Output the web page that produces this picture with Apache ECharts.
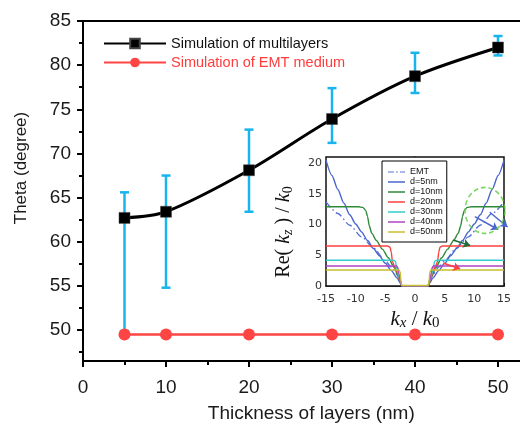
<!DOCTYPE html>
<html>
<head>
<meta charset="utf-8">
<script src="https://cdn.jsdelivr.net/npm/echarts@6/dist/echarts.min.js"></script>
<style>html,body{margin:0;padding:0;background:#fff}#c{width:520px;height:424px}</style>
</head>
<body>
<div id="c"></div>
<script>
// ---- main chart data ----
const thickness = [5, 10, 20, 30, 40, 50];
const thetaMultilayers = [62.7, 63.4, 68.1, 73.9, 78.75, 82.0];
const errLow = [49.9, 54.8, 63.4, 71.2, 76.85, 81.1];
const errHigh = [65.6, 67.5, 72.7, 77.4, 81.4, 83.3];
const thetaEMT = [49.5, 49.5, 49.5, 49.5, 49.5, 49.5];
const yMajorTicks = [50, 55, 60, 65, 70, 75, 80, 85];
const yMinorTicks = [47.5, 52.5, 57.5, 62.5, 67.5, 72.5, 77.5, 82.5];
const mainNames = ['Simulation of multilayers', 'Simulation of EMT medium'];

// ---- inset data: [kx/k0, Re(kz)/k0] ----
const insetNames = ['EMT', 'd=5nm', 'd=10nm', 'd=20nm', 'd=30nm', 'd=40nm', 'd=50nm'];
const curveEMT = [[-15,13.7],[-13,11.8],[-11,9.9],[-9,8.0],[-7,6.2],[-5,4.1],[-4,3.1],[-3,1.9],[-2.5,1.1],[-2.2,0.2],[-2.1,0.05],[0,0.05],[2.1,0.05],[2.2,0.2],[2.5,1.1],[3,1.9],[4,3.1],[5,4.1],[7,6.2],[9,8.0],[11,9.9],[13,11.8],[15,13.7]];
const curve5 = [[-15,20.5],[-14,18.0],[-13,15.7],[-12,13.5],[-11,11.6],[-10,10.1],[-9,8.8],[-8,7.4],[-7,6.1],[-6,4.9],[-5,3.7],[-4,2.5],[-3,1.3],[-2.5,0.5],[-2.2,0],[0,0],[2.2,0],[2.5,0.5],[3,1.3],[4,2.5],[5,3.7],[6,4.9],[7,6.1],[8,7.4],[9,8.8],[10,10.1],[11,11.6],[12,13.5],[13,15.7],[14,18.0],[15,20.5]];
const curve10 = [[-15,12.9],[-9.5,12.9],[-8.8,12.8],[-8.3,12.3],[-8.0,11.3],[-7.7,9.8],[-7.3,8.6],[-6.5,7.4],[-5.5,6.0],[-4.5,4.6],[-3.5,3.0],[-2.8,1.5],[-2.4,0.4],[-2.2,0],[2.2,0],[2.4,0.4],[2.8,1.5],[3.5,3.0],[4.5,4.6],[5.5,6.0],[6.5,7.4],[7.3,8.6],[7.7,9.8],[8.0,11.3],[8.3,12.3],[8.8,12.8],[9.5,12.9],[15,12.9]];
const curve20 = [[-15,6.5],[-4.6,6.5],[-4.2,6.3],[-4.0,5.5],[-3.8,4.0],[-3.5,3.3],[-3.0,2.2],[-2.6,1.0],[-2.3,0.2],[-2.2,0],[2.2,0],[2.3,0.2],[2.6,1.0],[3.0,2.2],[3.5,3.3],[3.8,4.0],[4.0,5.5],[4.2,6.3],[4.6,6.5],[15,6.5]];
const curve30 = [[-15,4.2],[-3.6,4.2],[-3.3,4.0],[-3.1,3.0],[-2.9,2.2],[-2.6,1.2],[-2.3,0.2],[-2.2,0],[2.2,0],[2.3,0.2],[2.6,1.2],[2.9,2.2],[3.1,3.0],[3.3,4.0],[3.6,4.2],[15,4.2]];
const curve40 = [[-15,3.25],[-3.1,3.25],[-2.9,3.0],[-2.7,2.0],[-2.5,1.0],[-2.3,0.2],[-2.2,0],[2.2,0],[2.3,0.2],[2.5,1.0],[2.7,2.0],[2.9,3.0],[3.1,3.25],[15,3.25]];
const curve50 = [[-15,2.6],[-2.7,2.6],[-2.5,2.3],[-2.4,1.2],[-2.3,0.3],[-2.2,0.08],[0,0.08],[2.2,0.08],[2.3,0.3],[2.4,1.2],[2.5,2.3],[2.7,2.6],[15,2.6]];
const arrowGreen = [[6.4,7.5],[9.3,6.6]];
const arrowRed = [[4.8,3.7],[7.6,2.8]];
const arrowBlue1 = [[10.1,11.3],[14.0,9.2]];
const arrowBlue2 = [[12.6,12.0],[15.6,9.6]];
const circleCenter = [[11.8,12.3]];
const insetTicks = [0, 5, 10, 15, 20];

const errColor = '#18b4ee';
const sans = 'Liberation Sans, Arial, sans-serif';
const serif = 'Liberation Serif, Times New Roman, serif';

const chart = echarts.init(document.getElementById('c'), null, {renderer: 'canvas'});

const insetColors = ['#5570d8', '#4a66cc', '#2e8a38', '#ff4040', '#33cccc', '#b044c4', '#c8c030'];
const insetData = [curveEMT, curve5, curve10, curve20, curve30, curve40, curve50];
const insetSeries = insetNames.map((n, i) => ({
  name: n, type: 'line', xAxisIndex: 1, yAxisIndex: 2, data: insetData[i],
  symbol: 'none', smooth: 0.25, smoothMonotone: 'x', z: 5,
  lineStyle: {color: insetColors[i], width: 1.4, type: i === 0 ? [7, 3, 1.5, 3] : 'solid'},
  itemStyle: {color: insetColors[i]}
}));
const dashDotIcon = 'path://M0,0h7v1h-7z M9.5,0h2v1h-2z M14,0h6v1h-6z';
const insetLegendData = insetNames.map((n, i) => ({name: n, icon: i === 0 ? dashDotIcon : 'rect'}));

function arrowSeries(coords, color) {
  return {
    type: 'lines', coordinateSystem: 'cartesian2d', xAxisIndex: 1, yAxisIndex: 2,
    symbol: ['none', 'arrow'], symbolSize: 7, clip: false, z: 6,
    lineStyle: {color: color, width: 1.5, opacity: 1},
    data: [{coords: coords}]
  };
}

const option = {
  backgroundColor: '#fff',
  animation: false,
  grid: [
    {left: 83, top: 21, width: 456.5, height: 340, show: true, borderColor: '#000', borderWidth: 2, backgroundColor: 'transparent', outerBoundsMode: 'none', containLabel: false},
    {left: 326, top: 157, width: 178, height: 129, show: true, borderColor: '#111', borderWidth: 1.5, backgroundColor: '#fff', z: 3, outerBoundsMode: 'none', containLabel: false}
  ],
  legend: [
    {
      data: [
        {name: mainNames[0], textStyle: {color: '#111'}},
        {name: mainNames[1], textStyle: {color: '#ff3b3b'}}
      ],
      orient: 'vertical', left: 98, top: 35, itemWidth: 62, itemHeight: 12, itemGap: 2,
      padding: [0, 5], textStyle: {fontFamily: sans, fontSize: 14.5, lineHeight: 17}
    },
    {
      data: insetLegendData, orient: 'vertical', left: 382, top: 161, itemWidth: 17, itemHeight: 1.5, itemGap: 0,
      padding: [6, 4, 5, 6], borderColor: '#000', borderWidth: 1, backgroundColor: '#fff', z: 8,
      textStyle: {fontFamily: sans, fontSize: 9, lineHeight: 10, color: '#111'}
    }
  ],
  xAxis: [
    {
      type: 'value', gridIndex: 0, min: 0, max: 55, interval: 10,
      axisLine: {lineStyle: {color: '#000', width: 2}},
      axisTick: {length: 6, lineStyle: {color: '#000', width: 2}},
      minorTick: {show: true, splitNumber: 2, length: 4, lineStyle: {color: '#000', width: 2}},
      splitLine: {show: false},
      axisLabel: {fontFamily: sans, fontSize: 19, color: '#1a1a1a', margin: 17},
      name: 'Thickness of layers (nm)', nameLocation: 'middle', nameGap: 43,
      nameTextStyle: {fontFamily: sans, fontSize: 19, color: '#1a1a1a'}
    },
    {
      type: 'value', gridIndex: 1, min: -15, max: 15, interval: 5,
      axisLine: {lineStyle: {color: '#111', width: 1.5}},
      axisTick: {inside: true, length: 3, lineStyle: {color: '#111'}},
      splitLine: {show: false},
      axisLabel: {fontFamily: 'DejaVu Sans', fontSize: 11, color: '#333', margin: 8}
    }
  ],
  yAxis: [
    {
      type: 'value', gridIndex: 0, min: 46.5, max: 85, position: 'left',
      axisLine: {lineStyle: {color: '#000', width: 2}},
      axisTick: {length: 6, customValues: yMajorTicks, lineStyle: {color: '#000', width: 2}},
      splitLine: {show: false},
      axisLabel: {customValues: yMajorTicks, fontFamily: sans, fontSize: 19, color: '#1a1a1a', margin: 12}
    },
    {
      type: 'value', gridIndex: 0, min: 46.5, max: 85, position: 'left', offset: 0,
      axisLine: {show: false},
      axisTick: {length: 4, customValues: yMinorTicks, lineStyle: {color: '#000', width: 2}},
      splitLine: {show: false},
      axisLabel: {show: false}
    },
    {
      type: 'value', gridIndex: 1, min: 0, max: 21,
      axisLine: {lineStyle: {color: '#111', width: 1.5}},
      axisTick: {inside: true, length: 3, customValues: insetTicks, lineStyle: {color: '#111'}},
      splitLine: {show: false},
      axisLabel: {customValues: insetTicks, fontFamily: 'DejaVu Sans', fontSize: 11, color: '#333', margin: 4}
    }
  ],
  graphic: [
    {
      type: 'text', x: 21, y: 168, rotation: Math.PI / 2, z: 10,
      style: {text: 'Theta (degree)', align: 'center', verticalAlign: 'middle', fontFamily: sans, fontSize: 17, fill: '#1a1a1a'}
    },
    {
      type: 'text', x: 284, y: 232, rotation: Math.PI / 2, z: 10,
      style: {
        text: '{n|Re( }{i|k}{s|z}{n| ) / }{i|k}{s0|0}',
        align: 'center', verticalAlign: 'middle',
        rich: {
          n: {fontFamily: serif, fontSize: 20, lineHeight: 24, fill: '#111'},
          i: {fontFamily: serif, fontSize: 20, fontStyle: 'italic', lineHeight: 24, fill: '#111'},
          s: {fontFamily: serif, fontSize: 14, fontStyle: 'italic', lineHeight: 15, padding: [9, 0, 0, 0], fill: '#111'},
          s0: {fontFamily: serif, fontSize: 14, lineHeight: 15, padding: [9, 0, 0, 0], fill: '#111'}
        }
      }
    },
    {
      type: 'text', x: 415, y: 319, z: 10,
      style: {
        text: '{i|k}{s|x}{n| / }{i|k}{s0|0}',
        align: 'center', verticalAlign: 'middle',
        rich: {
          n: {fontFamily: serif, fontSize: 21, lineHeight: 24, fill: '#111'},
          i: {fontFamily: serif, fontSize: 21, fontStyle: 'italic', lineHeight: 24, fill: '#111'},
          s: {fontFamily: serif, fontSize: 15, fontStyle: 'italic', lineHeight: 15, padding: [9, 0, 0, 0], fill: '#111'},
          s0: {fontFamily: serif, fontSize: 15, lineHeight: 15, padding: [9, 0, 0, 0], fill: '#111'}
        }
      }
    }
  ],
  series: [
    {
      type: 'custom', xAxisIndex: 0, yAxisIndex: 0, z: 1,
      data: thickness.map((t, i) => [t, errLow[i], errHigh[i]]),
      encode: {x: 0, y: [1, 2]},
      renderItem: function (params, api) {
        const x = api.value(0);
        const lo = api.coord([x, api.value(1)]);
        const hi = api.coord([x, api.value(2)]);
        const w = 4.5;
        const st = {stroke: errColor, lineWidth: 2.5};
        return {type: 'group', children: [
          {type: 'line', shape: {x1: lo[0], y1: lo[1], x2: hi[0], y2: hi[1]}, style: st},
          {type: 'line', shape: {x1: lo[0] - w, y1: lo[1], x2: lo[0] + w, y2: lo[1]}, style: st},
          {type: 'line', shape: {x1: hi[0] - w, y1: hi[1], x2: hi[0] + w, y2: hi[1]}, style: st}
        ]};
      }
    },
    {
      name: mainNames[0], type: 'line', xAxisIndex: 0, yAxisIndex: 0, z: 3,
      data: thickness.map((t, i) => [t, thetaMultilayers[i]]),
      smooth: 0.3, symbol: 'rect', symbolSize: 11,
      lineStyle: {color: '#000', width: 3},
      itemStyle: {color: '#000', borderColor: '#444', borderWidth: 0.5}
    },
    {
      name: mainNames[1], type: 'line', xAxisIndex: 0, yAxisIndex: 0, z: 4,
      data: thickness.map((t, i) => [t, thetaEMT[i]]),
      symbol: 'circle', symbolSize: 12,
      lineStyle: {color: '#ff4444', width: 2.5},
      itemStyle: {color: '#ff4444'}
    },
    ...insetSeries,
    arrowSeries(arrowGreen, '#1f6b35'),
    arrowSeries(arrowRed, '#ff4040'),
    arrowSeries(arrowBlue1, '#4a66cc'),
    arrowSeries(arrowBlue2, '#4a66cc'),
    {
      type: 'scatter', xAxisIndex: 1, yAxisIndex: 2, data: circleCenter, z: 6, clip: false,
      symbol: 'circle', symbolSize: [40, 46], silent: true,
      itemStyle: {color: 'rgba(0,0,0,0)', borderColor: '#5ccc3c', borderWidth: 1.6, borderType: [5, 3]}
    }
  ]
};
chart.setOption(option);
</script>
</body>
</html>
